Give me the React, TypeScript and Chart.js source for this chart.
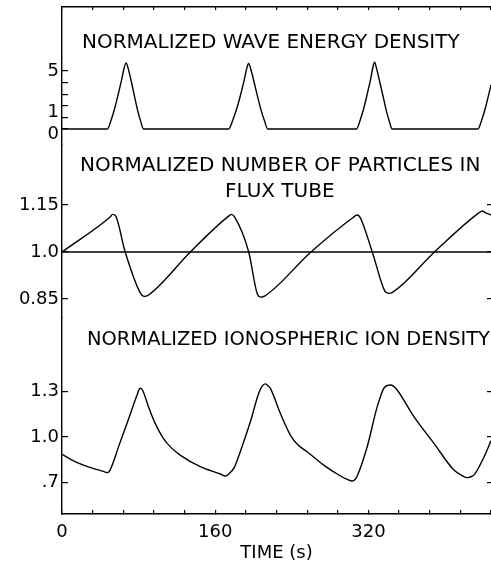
import React, { useEffect, useRef } from 'react';
import { Chart, registerables } from 'chart.js';

Chart.register(...registerables);

// ---- data ----
const timeMin = 0;
const timeMax = 448;
const timeTickStep = 32;
const timeLabeledTicks = [0, 160, 320];

const energyTime = [
  0,
  47.4, 51.4, 55.4, 59, 62.4, 65, 66.9, 69, 72.9, 76, 79, 82, 85.1,
  174, 178.5, 183, 187, 190.5, 193, 194.9, 197, 201, 204.5, 208, 211.5, 214.8,
  307.5, 311.5, 315.5, 319, 322.3, 324.6, 326.4, 328.4, 332.3, 335.6, 338.6, 341.7, 344.8,
  434.4, 438.4, 442.4, 446, 448,
];
const energyValue = [
  0,
  0, 0.8, 1.9, 3.1, 4.3, 5.3, 5.7, 5.25, 3.9, 2.7, 1.6, 0.7, 0,
  0, 0.8, 1.9, 3.1, 4.3, 5.25, 5.65, 5.2, 3.9, 2.7, 1.6, 0.7, 0,
  0, 0.8, 1.9, 3.1, 4.3, 5.3, 5.75, 5.25, 3.9, 2.7, 1.6, 0.7, 0,
  0, 0.8, 1.9, 3.1, 3.8,
];

const particleTime = [
  0, 50, 53, 56, 66, 82, 86, 90, 134, 173, 177, 180, 195, 204, 208, 212, 260,
  304, 308, 311, 324, 337, 341, 345, 389, 435, 439, 442, 448,
];
const particleValue = [
  1.0, 1.111, 1.12, 1.115, 1.0, 0.868, 0.858, 0.862, 1.0, 1.112, 1.12, 1.113, 1.0, 0.866, 0.856, 0.86, 1.0,
  1.11, 1.118, 1.112, 1.0, 0.876, 0.868, 0.871, 1.0, 1.124, 1.131, 1.126, 1.118,
];

const referenceTime = [0, 448];
const referenceValue = [1.0, 1.0];

const ionTime = [
  0, 10, 22.3, 35, 44, 47.4, 50, 60, 70, 78, 81.6, 84, 90.3, 97.3, 106, 114, 123.4, 144.4,
  165.3, 170.5, 174, 180, 186, 196.7, 205, 209, 212.3, 214.8, 217.6, 228, 238.5, 246, 256, 273.3, 290.8,
  298, 303, 306, 308.3, 318.7, 329.2, 336, 340, 343, 346, 350, 367.5, 388.4, 409.3, 418, 423.3, 427, 430.3,
  440.8, 448,
];
const ionValue = [
  0.886, 0.85, 0.815, 0.788, 0.772, 0.765, 0.78, 0.953, 1.127, 1.27, 1.321, 1.31, 1.2, 1.09, 0.99, 0.93, 0.881, 0.804,
  0.756, 0.743, 0.755, 0.8, 0.9, 1.1, 1.28, 1.335, 1.35, 1.34, 1.32, 1.156, 1.013, 0.95, 0.903, 0.815, 0.743,
  0.72, 0.71, 0.72, 0.743, 0.936, 1.2, 1.321, 1.34, 1.343, 1.335, 1.31, 1.134, 0.958, 0.782, 0.745, 0.732, 0.738, 0.75,
  0.87, 0.975,
];

const energyTicks = [0, 1, 2, 3, 4, 5];
// '1' sits a little above its tick and '0' a little below, as in the original
const energyTickLabels: Array<string | string[]> = [['', '0'], ['1', ''], '', '', '', '5'];
const particleTicks = [0.85, 1.0, 1.15];
const particleTickLabels = ['0.85', '1.0', '1.15'];
const ionTicks = [0.7, 1.0, 1.3];
const ionTickLabels = ['.7', '1.0', '1.3'];

const energyRange = [-1.379, 10.517];
const particleRange = [0.7893, 1.3415];
const ionRange = [0.4924, 1.7845];

const panelTitles = [
  'NORMALIZED WAVE ENERGY DENSITY',
  'NORMALIZED NUMBER OF PARTICLES IN',
  'FLUX TUBE',
  'NORMALIZED IONOSPHERIC ION DENSITY',
];
const timeTitle = 'TIME (s)';

// ---- styling / layout ----
const FAMILY = '"DejaVu Sans", "Liberation Sans", sans-serif';
const INK = '#000';
const titleBoxes: Array<[number, number, number]> = [
  [82, 43, 378],
  [80, 166, 407],
  [225, 191.5, 115],
  [87, 339.5, 403],
];

const toPoints = (xs: number[], ys: number[]) => xs.map((x, i) => ({ x, y: ys[i] }));

const fixedTicks = (values: number[]) => (scale: any) => {
  scale.ticks = values.map((v) => ({ value: v }));
};

const noPadding = (s: any) => {
  s.paddingTop = 0;
  s.paddingBottom = 0;
  s.paddingLeft = 0;
  s.paddingRight = 0;
};

const inwardGrid = (len: number, show = true) => ({
  drawOnChartArea: false,
  drawTicks: show,
  tickLength: -len,
  color: INK,
  lineWidth: 1.2,
});

const leftAxis = (
  range: number[],
  ticks: number[],
  labels: Array<string | string[]>,
  weight: number,
  stackWeight: number,
  lineHeight = 1.2,
) => ({
  type: 'linear',
  position: 'left',
  stack: 'left',
  stackWeight,
  weight,
  min: range[0],
  max: range[1],
  bounds: 'data',
  border: { display: true, color: INK, width: 1.4 },
  grid: inwardGrid(6),
  afterBuildTicks: fixedTicks(ticks),
  afterFit: (s: any) => { s.width = 62; noPadding(s); },
  ticks: {
    color: INK,
    padding: 9,
    autoSkip: false,
    font: { family: FAMILY, size: 18, lineHeight },
    callback: (_v: any, i: number) => labels[i],
  },
});

// right-hand boxes are stacked in ascending weight order
const rightAxis = (range: number[], ticks: number[], weight: number, stackWeight: number, show: boolean) => ({
  type: 'linear',
  position: 'right',
  stack: 'right',
  stackWeight,
  weight,
  min: range[0],
  max: range[1],
  bounds: 'data',
  border: { display: false },
  grid: inwardGrid(4, show),
  afterBuildTicks: fixedTicks(ticks),
  afterFit: (s: any) => { s.width = 0; noPadding(s); },
  ticks: { display: false, autoSkip: false },
});

const panelTitlePlugin = {
  id: 'panelTitles',
  afterDraw(chart: any) {
    const ctx = chart.ctx;
    ctx.save();
    ctx.fillStyle = INK;
    ctx.font = `20px ${FAMILY}`;
    ctx.textAlign = 'left';
    ctx.textBaseline = 'middle';
    panelTitles.forEach((t, i) => {
      const [x, y, w] = titleBoxes[i];
      ctx.fillText(t, x, y, w);
    });
    ctx.restore();
  },
};

const lineStyle = {
  borderColor: INK,
  borderWidth: 1.4,
  pointRadius: 0,
  fill: false,
  cubicInterpolationMode: 'monotone',
};

export default function App() {
  const ref = useRef<HTMLCanvasElement>(null);
  useEffect(() => {
    document.body.style.margin = '0';
    const chart = new Chart(ref.current as HTMLCanvasElement, {
      type: 'line',
      data: {
        datasets: [
          { ...lineStyle, label: panelTitles[0], data: toPoints(energyTime, energyValue), yAxisID: 'yEnergy' },
          { ...lineStyle, label: panelTitles[1], data: toPoints(particleTime, particleValue), yAxisID: 'yParticle' },
          { ...lineStyle, label: 'reference', data: toPoints(referenceTime, referenceValue), yAxisID: 'yParticle', borderWidth: 1.5 },
          { ...lineStyle, label: panelTitles[3], data: toPoints(ionTime, ionValue), yAxisID: 'yIon' },
        ] as any,
      },
      options: {
        responsive: false,
        animation: false,
        devicePixelRatio: 1,
        layout: { padding: 0 },
        plugins: { legend: { display: false }, tooltip: { enabled: false }, title: { display: false } },
        scales: {
          x: {
            type: 'linear',
            position: 'bottom',
            min: timeMin,
            max: timeMax,
            border: { display: true, color: INK, width: 1.6 },
            grid: inwardGrid(4),
            afterFit: (s: any) => { s.height = 54; noPadding(s); },
            ticks: {
              stepSize: timeTickStep,
              autoSkip: false,
              maxRotation: 0,
              color: INK,
              padding: 12,
              font: { family: FAMILY, size: 18 },
              callback: (v: any) => (timeLabeledTicks.includes(Number(v)) ? String(v) : ''),
            },
            title: {
              display: true,
              text: timeTitle,
              color: INK,
              font: { family: FAMILY, size: 18 },
              padding: { top: 0, bottom: 4 },
            },
          },
          xTop: {
            type: 'linear',
            position: 'top',
            min: timeMin,
            max: timeMax,
            border: { display: true, color: INK, width: 1.4 },
            grid: inwardGrid(3),
            afterFit: (s: any) => { s.height = 7; noPadding(s); },
            ticks: { display: false, stepSize: timeTickStep, autoSkip: false },
          },
          yEnergy: leftAxis(energyRange, energyTicks, energyTickLabels, 3, 138, 0.6),
          yParticle: leftAxis(particleRange, particleTicks, particleTickLabels, 2, 173),
          yIon: leftAxis(ionRange, ionTicks, ionTickLabels, 1, 196),
          rEnergy: rightAxis(energyRange, [], 1, 138, false),
          rParticle: rightAxis(particleRange, particleTicks, 2, 173, true),
          rIon: rightAxis(ionRange, ionTicks, 3, 196, true),
        } as any,
      },
      plugins: [panelTitlePlugin],
    });
    return () => chart.destroy();
  }, []);
  return <canvas ref={ref} width={491} height={568} style={{ display: 'block' }} />;
}
